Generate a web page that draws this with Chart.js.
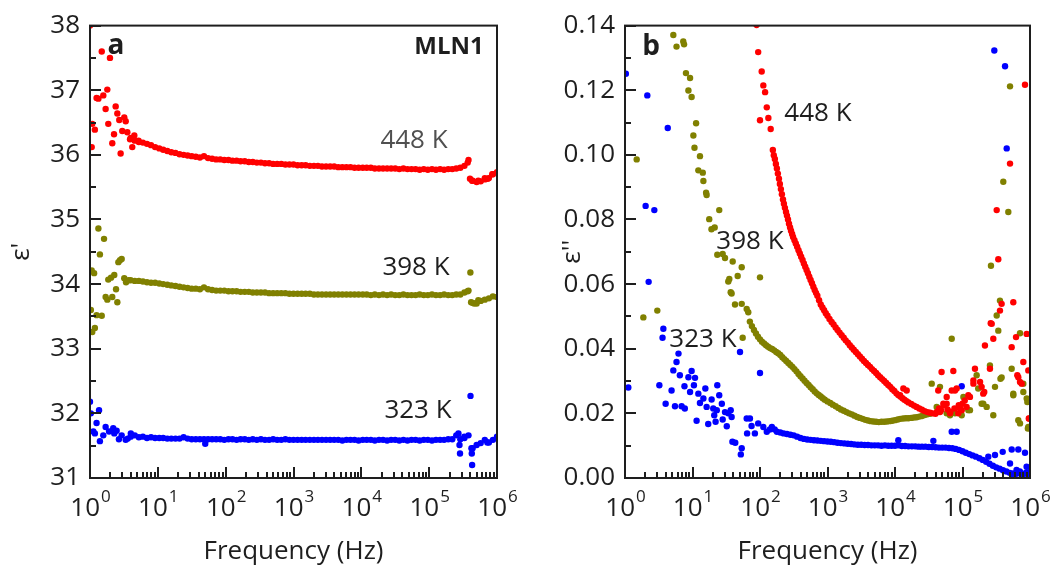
<!DOCTYPE html>
<html><head><meta charset="utf-8">
<script src="https://cdn.jsdelivr.net/npm/chart.js@4.4.1/dist/chart.umd.min.js"></script>
<style>
html,body{margin:0;padding:0;background:#fff;}
#wrap{position:relative;width:1053px;height:571px;overflow:hidden;}
canvas{position:absolute;top:0;}
#ca{left:0;width:530px;height:571px;}
#cb{left:530px;width:523px;height:571px;}
</style></head><body>
<div id="wrap"><canvas id="ca" width="530" height="571"></canvas><canvas id="cb" width="523" height="571"></canvas></div>
<script>
// ---------- tick labels ----------
const xTickExps = [0, 1, 2, 3, 4, 5, 6];
const xMinorMult = [2, 3, 4, 5, 6, 7, 8, 9];
const yTicksA = [31, 32, 33, 34, 35, 36, 37, 38];
const yTicksB = [0.00, 0.02, 0.04, 0.06, 0.08, 0.10, 0.12, 0.14];
const seriesNames = ['448 K', '398 K', '323 K'];

// ---------- panel a : eps' ----------
const freqGridA = [3.98,4.57,5.25,6.03,6.92,7.94,9.12,10.5,12.0,13.8,
 15.8,18.2,20.9,24.0,27.5,31.6,36.3,41.7,47.9,55.0,
 63.1,72.4,83.2,95.5,110,126,145,166,191,219,
 251,288,331,380,437,501,575,661,759,871,
 1000,1150,1320,1510,1740,2000,2290,2630,3020,3470,
 3980,4570,5250,6030,6920,7940,9120,10500,12000,13800,
 15800,18200,20900,24000,27500,31600,36300,41700,47900,55000,
 63100,72400,83200,95500,110000,126000,145000,166000,191000,219000,
 251000,288000,331000,380000,437000,501000,575000,661000,759000,871000,
 1000000];
const epsReal448 = [36.26,36.22,36.20,36.19,36.17,36.15,36.12,36.10,36.08,36.06,
 36.04,36.03,36.01,36.00,35.99,35.98,35.97,35.96,35.98,35.95,
 35.94,35.93,35.93,35.92,35.92,35.91,35.91,35.90,35.90,35.89,
 35.89,35.88,35.88,35.87,35.87,35.86,35.86,35.86,35.85,35.85,
 35.85,35.84,35.84,35.84,35.83,35.83,35.83,35.82,35.82,35.82,
 35.82,35.81,35.81,35.81,35.81,35.80,35.80,35.80,35.80,35.80,
 35.79,35.79,35.79,35.79,35.79,35.79,35.78,35.79,35.78,35.78,
 35.78,35.77,35.78,35.77,35.78,35.77,35.78,35.77,35.78,35.78,
 35.79,35.80,35.83,35.92,35.60,35.58,35.59,35.64,35.64,35.70,
 35.73];
const epsReal398 = [34.06,34.05,34.05,34.04,34.03,34.02,34.02,34.01,34.00,33.99,
 33.98,33.97,33.96,33.95,33.94,33.93,33.93,33.92,33.95,33.92,
 33.91,33.90,33.90,33.90,33.89,33.89,33.89,33.88,33.88,33.88,
 33.87,33.87,33.87,33.87,33.86,33.86,33.86,33.86,33.86,33.85,
 33.85,33.85,33.85,33.85,33.85,33.84,33.84,33.84,33.84,33.84,
 33.84,33.84,33.84,33.84,33.84,33.84,33.84,33.84,33.84,33.83,
 33.84,33.83,33.84,33.83,33.84,33.83,33.83,33.84,33.83,33.83,
 33.83,33.84,33.83,33.83,33.84,33.83,33.83,33.84,33.83,33.83,
 33.84,33.84,33.87,33.90,33.71,33.70,33.74,33.76,33.78,33.81,
 33.80];
const epsReal323 = [31.64,31.66,31.63,31.64,31.62,31.63,31.62,31.62,31.62,31.61,
 31.61,31.61,31.61,31.63,31.61,31.60,31.60,31.60,31.60,31.60,
 31.60,31.60,31.60,31.59,31.60,31.60,31.59,31.60,31.60,31.59,
 31.60,31.59,31.60,31.59,31.59,31.60,31.59,31.59,31.60,31.59,
 31.59,31.59,31.59,31.59,31.59,31.59,31.59,31.59,31.59,31.59,
 31.59,31.59,31.58,31.59,31.59,31.59,31.58,31.59,31.59,31.59,
 31.58,31.59,31.59,31.58,31.59,31.59,31.58,31.59,31.58,31.59,
 31.59,31.58,31.59,31.59,31.58,31.59,31.59,31.59,31.60,31.60,
 31.66,31.60,31.62,31.66,31.46,31.51,31.54,31.59,31.55,31.59,
 31.64];
// scattered points off the grid [Hz, eps']
const epsReal448Extra = [[1.0,38.0],[1.06,36.12],[1.08,36.48],[1.18,36.39],[1.25,36.88],[1.33,36.87],[1.49,37.60],[1.57,36.92],[1.70,36.71],[1.80,37.01],[1.86,36.48],[1.97,37.50],[2.13,36.18],[2.26,36.32],[2.39,36.75],[2.53,36.64],[2.70,36.54],[2.83,36.02],[2.99,36.37],[3.20,36.58],[3.36,36.52],[3.55,36.35],[3.89,36.24],[4.2,36.12],[4.5,36.30],[5.2,36.22],
 [370000,35.88],[400000,35.63],[430000,35.60],[530000,35.60],[660000,35.62],[730000,35.63],[850000,35.70]];
const epsReal398Extra = [[1.03,33.60],[1.06,34.21],[1.08,33.26],[1.15,34.17],[1.18,33.32],[1.25,33.52],[1.33,34.86],[1.40,34.46],[1.49,33.51],[1.61,34.70],[1.70,33.80],[1.80,33.76],[1.86,34.07],[2.04,34.10],[2.13,33.80],[2.28,34.14],[2.42,33.92],[2.53,33.72],[2.62,34.34],[2.77,34.37],[2.93,34.39],[3.2,34.09],[3.4,34.03],[3.7,34.06],
 [370000,33.89],[405000,34.18],[415000,33.72],[460000,33.70],[530000,33.75]];
const epsReal323Extra = [[1.0,32.18],[1.03,32.0],[1.12,31.72],[1.18,31.69],[1.25,31.85],[1.36,32.05],[1.40,31.57],[1.57,31.66],[1.70,31.79],[1.91,31.72],[2.2,31.77],[2.28,31.69],[2.47,31.73],[2.67,31.60],[2.93,31.66],[3.36,31.59],[3.6,31.61],[4.0,31.69],[50,31.53],
 [270000,31.69],[280000,31.51],[285000,31.38],[330000,31.64],[407000,32.27],[420000,31.46],[425000,31.38],[430000,31.20],[720000,31.55]];

// ---------- panel b : eps'' [Hz, eps''] ----------
const epsImag448 = [[89,0.1402],[94,0.1318],[100,0.1107],[106,0.1258],[112,0.1215],[119,0.1194],[126,0.1147],[133,0.1114],[144,0.1080],
 [155,0.1015],[160,0.0999],[166,0.0987],[172,0.0972],[178,0.0958],[184,0.0942],[191,0.0926],[197,0.0910],[204,0.0894],[211,0.0878],[219,0.0862],[226,0.0849],[234,0.0836],[243,0.0823],[251,0.0812],[260,0.0800],[269,0.0787],[279,0.0775],[288,0.0765],[299,0.0755],[309,0.0746],[324,0.0736],[339,0.0726],[355,0.0716],[372,0.0705],[389,0.0695],[407,0.0685],[427,0.0675],[447,0.0664],[468,0.0654],[490,0.0644],[513,0.0634],[537,0.0623],[562,0.0613],[589,0.0603],[617,0.0592],[646,0.0582],[676,0.0573],[708,0.0564],[750,0.0550],[794,0.0537],[841,0.0528],[891,0.0519],[944,0.0510],[1000,0.0502],[1070,0.0492],[1150,0.0483],[1230,0.0475],[1320,0.0466],[1410,0.0458],[1510,0.0450],[1620,0.0442],[1740,0.0434],[1860,0.0426],[2000,0.0419],[2140,0.0411],[2290,0.0404],[2450,0.0397],[2630,0.0390],[2820,0.0383],[3020,0.0376],[3240,0.0369],[3470,0.0362],[3720,0.0356],[3980,0.0350],[4270,0.0344],[4570,0.0337],[4900,0.0331],[5250,0.0325],[5620,0.0318],[6030,0.0312],[6460,0.0306],[6920,0.0300],[7410,0.0294],[7940,0.0288],[8510,0.0282],[9120,0.0275],[9770,0.0269],[10500,0.0262],[11200,0.0257],[12000,0.0252],[12900,0.0247],[13800,0.0242],[14800,0.0238],[15800,0.0234],[17400,0.0229],[19100,0.0224],[20900,0.0220],[22900,0.0215],[25100,0.0211],[27500,0.0207],[30200,0.0204],[33100,0.0202],[36300,0.0200],[39800,0.0199],
 [42000,0.0205],[45000,0.0215],[48000,0.0210],[53000,0.0225],[60000,0.0212],[66000,0.0205],[76000,0.0215],[88000,0.0225],[100000,0.0230],[108000,0.0240],
 [13300,0.0277],[14900,0.0271],[11900,0.0256],[49000,0.0328],[73100,0.0331],[43700,0.0271],[46400,0.0204],[58300,0.0230],[69200,0.0271],[82000,0.0277],[91800,0.0215],[115000,0.0220],[129000,0.0251],[145000,0.0302],[153000,0.0338],[192000,0.0282],[215000,0.0410],[271000,0.0477],[286000,0.0431],[359000,0.0518],[566000,0.0544],[535000,0.0405],[671000,0.0312],[753000,0.0292],[894000,0.0446],[796000,0.0359],[944000,0.0333],[960000,0.0184],[255000,0.0338],[210000,0.0266],[182000,0.0297],[843000,0.1217],[506000,0.0973],[321000,0.0829],[339000,0.0677],[380000,0.0539],[621000,0.0436],[649000,0.0318],[145000,0.0292],[203000,0.0261],[122000,0.0256],[77400,0.0271],[58300,0.0251],[52000,0.0230],[65300,0.0200],[86700,0.0200],[97300,0.0210],[711000,0.0297],[977000,0.0184],[262000,0.0479]];
const epsImag398 = [[1.49,0.0986],[1.87,0.0497],[3.01,0.0518],[5.2,0.1371],[5.8,0.1335],[7.3,0.1351],[7.5,0.1342],[8.0,0.1253],[9.2,0.1238],[8.7,0.1199],[9.7,0.1179],[11.3,0.1098],[10.3,0.1060],[10.7,0.1022],[12.9,0.0996],[12.2,0.0952],[14.2,0.0945],[14.5,0.0919],[15.9,0.0883],[16.2,0.0876],[17.7,0.0801],[24.9,0.0829],[19.1,0.0770],[21.3,0.0775],[23.3,0.0691],[28.0,0.0693],[30.3,0.0681],[33.9,0.0608],[35.1,0.0616],[39.4,0.0670],[46.7,0.0625],[53.6,0.0652],[36.8,0.0575],[100,0.0621],[38.0,0.0571],[42.6,0.0537],[53.6,0.0539],[63.5,0.0523],[67.0,0.0513],[55.4,0.0434],
 [70.8,0.0484],[75.9,0.0470],[81.3,0.0458],[87.1,0.0447],[93.3,0.0437],[100,0.0429],[107,0.0422],[115,0.0416],[123,0.0411],[132,0.0406],[141,0.0402],[151,0.0399],[162,0.0395],[174,0.0390],[186,0.0386],[200,0.0381],[214,0.0374],[229,0.0368],[245,0.0362],[263,0.0356],[282,0.0350],[302,0.0344],[324,0.0337],[347,0.0330],[372,0.0322],[398,0.0315],[427,0.0308],[457,0.0301],[490,0.0294],[525,0.0288],[562,0.0281],[603,0.0275],[646,0.0268],[692,0.0262],[741,0.0257],[794,0.0252],[851,0.0247],[912,0.0242],[1000,0.0237],[1100,0.0232],[1200,0.0227],[1320,0.0222],[1450,0.0217],[1580,0.0212],[1740,0.0208],[1910,0.0204],[2090,0.0200],[2290,0.0197],[2510,0.0193],[2750,0.0189],[3020,0.0186],[3310,0.0183],[3630,0.0180],[3980,0.0178],[4370,0.0176],[4790,0.0175],[5250,0.0174],[5750,0.0173],[6310,0.0174],[6920,0.0174],[7590,0.0175],[8320,0.0176],[9120,0.0177],[10000,0.0179],[11000,0.0181],[12000,0.0183],[13200,0.0184],[14500,0.0185],[15800,0.0185],[17400,0.0186],[19100,0.0187],[20900,0.0188],[22900,0.0190],[25100,0.0192],[27500,0.0195],[30200,0.0197],[33100,0.0199],
 [69200,0.0431],[35000,0.0292],[46400,0.0282],[41500,0.0220],[58300,0.0200],[77400,0.0200],[103000,0.0251],[129000,0.0210],[162000,0.0318],[192000,0.0230],[228000,0.0220],[286000,0.0194],[303000,0.0282],[255000,0.0348],[359000,0.0549],[339000,0.0456],[365000,0.0307],[535000,0.0338],[566000,0.0261],[671000,0.0179],[711000,0.0448],[796000,0.0292],[894000,0.0246],[944000,0.0158],[506000,0.1212],[402000,0.0917],[477000,0.0823],[264000,0.0657],[321000,0.0503],[171000,0.0277],[203000,0.0230],[122000,0.0210],[97300,0.0194],[65300,0.0194],[711000,0.0169],[930000,0.0153],[912000,0.0235],[566000,0.0256],[796000,0.0266],[380000,0.0311]];
const epsImag323 = [[1.03,0.1251],[2.14,0.1184],[4.3,0.1083],[2.02,0.0842],[2.72,0.0829],[2.24,0.0607],[1.12,0.0280],[3.7,0.0462],[3.6,0.0434],[3.23,0.0287],[4.0,0.0230],[5.5,0.0222],[5.2,0.0333],[5.8,0.0359],[6.2,0.0385],[6.5,0.0318],[4.9,0.0271],[6.9,0.0222],[7.7,0.0215],[8.7,0.0312],[9.7,0.0331],[10.9,0.0310],[7.6,0.0284],[9.2,0.0266],[10.5,0.0287],[12.2,0.0261],[12.9,0.0232],[11.5,0.0177],[14.5,0.0246],[15.5,0.0277],[16.2,0.0220],[19.2,0.0243],[20.3,0.0215],[17.1,0.0167],[22.9,0.0210],[21.0,0.0194],[23.3,0.0287],[24.9,0.0256],[27.2,0.0230],[28.0,0.0181],[22.0,0.0174],[30.3,0.0204],[33.9,0.0200],[36.8,0.0210],[38.0,0.0189],[32.2,0.0160],[39.0,0.0112],[43.0,0.0109],[50.6,0.0390],[53.6,0.0092],[52.0,0.0073],[63.5,0.0184],[71,0.0184],[64.4,0.0138],[75,0.0161],[94,0.0169],[84,0.0138],[100,0.0325],[112,0.0158],[126,0.0143],[150,0.0158],[140,0.0150],[165,0.0150],
 [178,0.0143],[200,0.0141],[224,0.0138],[251,0.0136],[282,0.0134],[316,0.0132],[355,0.0128],[398,0.0124],[447,0.0121],[501,0.0119],[562,0.0118],[631,0.0117],[708,0.0116],[794,0.0115],[891,0.0114],[1000,0.0113],[1120,0.0112],[1260,0.0111],[1410,0.0109],[1580,0.0108],[1780,0.0107],[2000,0.0106],[2240,0.0105],[2510,0.0104],[2820,0.0103],[3160,0.0103],[3550,0.0102],[3980,0.0102],[4470,0.0101],[5010,0.0101],[5620,0.0101],[6310,0.0100],[7080,0.0101],[7940,0.0100],[8910,0.0100],[10000,0.0100],[11200,0.0101],[12600,0.0099],[14100,0.0099],[15800,0.0098],[17800,0.0098],[20000,0.0098],[22400,0.0097],[25100,0.0097],[28200,0.0097],[31600,0.0096],[35500,0.0096],[39800,0.0095],[44700,0.0094],[50100,0.0094],[56200,0.0094],[63100,0.0093],[70800,0.0092],[79400,0.0090],[89100,0.0087],[100000,0.0083],[112000,0.0078],[126000,0.0074],[141000,0.0070],[158000,0.0066],[178000,0.0061],[200000,0.0056],[224000,0.0050],[251000,0.0044],[282000,0.0038],[316000,0.0033],[355000,0.0029],[398000,0.0024],[447000,0.0020],[501000,0.0016],[562000,0.0014],[631000,0.0013],[708000,0.0016],[794000,0.0013],[891000,0.0017],[1000000,0.0019],
 [296000,0.1323],[427000,0.1274],[452000,0.1020],[97300,0.0284],[69200,0.0143],[82000,0.0143],[241000,0.0066],[303000,0.0071],[394000,0.0081],[536000,0.0088],[671000,0.0088],[843000,0.0078],[506000,0.0045],[891000,0.0035],[632000,0.0025],[11200,0.0117],[37000,0.0115],[708000,0.0020],[950000,0.0010],[560000,0.0008],[780000,0.0008]];

// ---------- styling ----------
const FONT = "'Open Sans', 'Liberation Sans', sans-serif";
const TXT = '#1e1e1e';
const COLORS = ['#ff0000', '#808000', '#0000ff'];

function gridPts(freqs, vals) { return freqs.map((f, i) => ({x: f, y: vals[i]})); }
function pairPts(arr) { return arr.map(([f, v]) => ({x: f, y: v})); }

const decorPlugin = {
  id: 'decor',
  afterDraw(chart) {
    const cfg = chart.config._config.decorCfg;
    const ctx = chart.ctx;
    const a = chart.chartArea;
    const x = chart.scales.x, y = chart.scales.y;
    ctx.save();
    ctx.fillStyle = TXT;
    // inward tick marks
    const major = 11, minor = 6, tw = 2;
    for (const e of xTickExps) {
      const px = x.getPixelForValue(Math.pow(10, e));
      ctx.fillRect(Math.round(px) - 1, a.bottom - major, tw, major);
    }
    for (let e = xTickExps[0]; e < xTickExps[xTickExps.length - 1]; e++) {
      for (const m of xMinorMult) {
        const px = x.getPixelForValue(m * Math.pow(10, e));
        ctx.fillRect(Math.round(px) - 1, a.bottom - minor, tw, minor);
      }
    }
    const yt = cfg.yTicks;
    for (let i = 0; i < yt.length; i++) {
      const py = y.getPixelForValue(yt[i]);
      ctx.fillRect(a.left, Math.round(py) - 1, major, tw);
      if (i < yt.length - 1) {
        const pm = y.getPixelForValue((yt[i] + yt[i + 1]) / 2);
        ctx.fillRect(a.left, Math.round(pm) - 1, minor, tw);
      }
    }
    // frame
    ctx.strokeStyle = TXT; ctx.lineWidth = 2;
    ctx.strokeRect(a.left, a.top, a.right - a.left, a.bottom - a.top);
    // x tick labels 10^n
    ctx.textBaseline = 'alphabetic'; ctx.textAlign = 'left';
    for (const e of xTickExps) {
      const px = x.getPixelForValue(Math.pow(10, e));
      ctx.font = `26px ${FONT}`; const wb = ctx.measureText('10').width;
      ctx.font = `17px ${FONT}`; const ws = ctx.measureText(String(e)).width;
      const left = px - (wb + ws) / 2;
      ctx.font = `26px ${FONT}`; ctx.fillText('10', left, 516);
      ctx.font = `17px ${FONT}`; ctx.fillText(String(e), left + wb + 1, 502);
    }
    // annotations
    ctx.textAlign = 'center'; ctx.textBaseline = 'middle';
    for (const l of cfg.labels) {
      ctx.font = `${l.weight || 'normal'} ${l.size}px ${FONT}`;
      ctx.fillStyle = l.color || TXT;
      ctx.fillText(l.text, x.getPixelForValue(l.f), y.getPixelForValue(l.v));
    }
    ctx.restore();
  }
};

function makeChart(id, datasets, yMin, yMax, yStep, yFmt, yTitle, yWidth, yTitlePad, pad, yTicks, labels) {
  return new Chart(document.getElementById(id), {
    type: 'scatter',
    data: {datasets},
    decorCfg: {yTicks, labels},
    options: {
      responsive: false, animation: false, events: [],
      layout: {padding: pad},
      plugins: {legend: {display: false}, tooltip: {enabled: false}},
      elements: {point: {radius: 3.2, borderWidth: 0, hoverRadius: 3.2}},
      scales: {
        x: {
          type: 'logarithmic', min: 1, max: 1e6,
          grid: {display: false, drawTicks: false}, border: {display: false},
          ticks: {display: false},
          title: {display: true, text: 'Frequency (Hz)', color: TXT, font: {family: FONT, size: 26}, padding: {top: 0, bottom: 4}},
          afterFit(s) { s.height = 93; }
        },
        y: {
          min: yMin, max: yMax,
          grid: {display: false, drawTicks: false}, border: {display: false},
          ticks: {stepSize: yStep, color: TXT, font: {family: FONT, size: 26}, padding: 10, callback: yFmt},
          title: {display: true, text: yTitle, color: TXT, font: {family: FONT, size: 26}, padding: {top: yTitlePad, bottom: 0}},
          afterFit(s) { s.width = yWidth; }
        }
      }
    },
    plugins: [decorPlugin]
  });
}

const dsA = [
  {label: seriesNames[0], data: gridPts(freqGridA, epsReal448).concat(pairPts(epsReal448Extra)), backgroundColor: COLORS[0]},
  {label: seriesNames[1], data: gridPts(freqGridA, epsReal398).concat(pairPts(epsReal398Extra)), backgroundColor: COLORS[1]},
  {label: seriesNames[2], data: gridPts(freqGridA, epsReal323).concat(pairPts(epsReal323Extra)), backgroundColor: COLORS[2]}
];
const dsB = [
  {label: seriesNames[0], data: pairPts(epsImag448), backgroundColor: COLORS[0]},
  {label: seriesNames[1], data: pairPts(epsImag398), backgroundColor: COLORS[1]},
  {label: seriesNames[2], data: pairPts(epsImag323), backgroundColor: COLORS[2]}
];

makeChart('ca', dsA, 31, 38, 1, v => String(Math.round(v)), "ε'", 90, 6,
  {top: 25, right: 33, left: 0, bottom: 0}, yTicksA,
  [{text: 'a', f: 2.42, v: 37.69, size: 28, weight: 'bold'},
   {text: 'MLN1', f: 196000, v: 37.66, size: 24, weight: 'bold'},
   {text: seriesNames[0], f: 59800, v: 36.22, size: 26, color: '#505050'},
   {text: seriesNames[1], f: 64000, v: 34.26, size: 26},
   {text: seriesNames[2], f: 68500, v: 32.05, size: 26}]);

makeChart('cb', dsB, 0, 0.14, 0.02, v => v.toFixed(2), "ε''", 95, 27,
  {top: 24, right: 23, left: 0, bottom: 0}, yTicksB,
  [{text: 'b', f: 2.43, v: 0.1335, size: 28, weight: 'bold'},
   {text: seriesNames[0], f: 723, v: 0.1129, size: 26},
   {text: seriesNames[1], f: 71, v: 0.0731, size: 26},
   {text: seriesNames[2], f: 14.3, v: 0.0429, size: 26}]);
</script>
</body></html>
